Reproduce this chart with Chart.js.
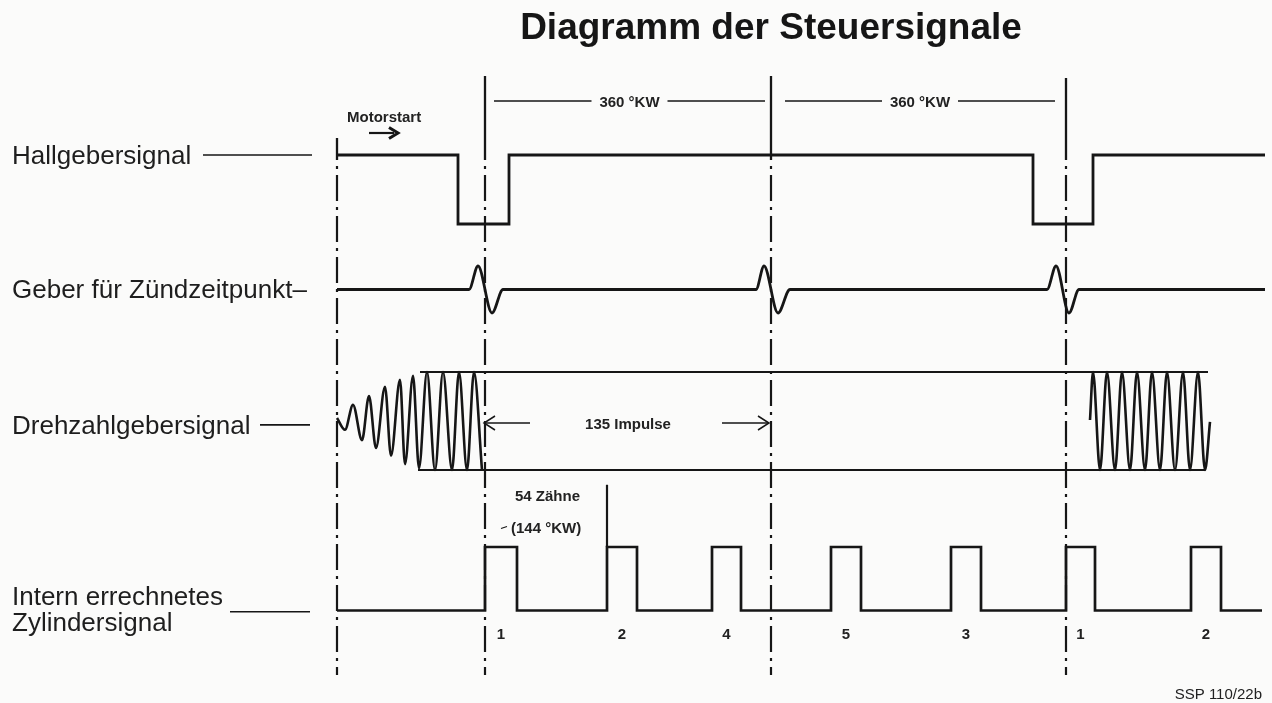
<!DOCTYPE html>
<html>
<head>
<meta charset="utf-8">
<script src="https://cdn.jsdelivr.net/npm/chart.js@4/dist/chart.umd.min.js"></script>
<style>
  html, body { margin: 0; padding: 0; background: #fbfbfa; }
  #wrap { width: 1272px; height: 703px; position: relative; }
  canvas { display: block; }
</style>
</head>
<body>
<div id="wrap"><canvas id="c" width="1272" height="703"></canvas></div>
<script>
// ---------------- DATA (diagram time units on x, signal levels on y) ----------------
const titleText = 'Diagramm der Steuersignale';
const rowLabels = ['Hallgebersignal', 'Geber für Zündzeitpunkt–', 'Drehzahlgebersignal', 'Intern errechnetes', 'Zylindersignal'];

// Hall sensor: edge times and the level that starts at each edge
const hallEdges  = [337, 458, 509, 1033, 1093, 1265];
const hallLevels = [1, 0, 1, 0, 1, 1];

// Ignition-point sensor: baseline with one bipolar pulse per reference mark
const ignT = [337, 469, 478, 492, 503, 756, 764, 778, 790, 1047, 1056, 1069, 1079, 1265];
const ignV = [0, 0, 1, -1, 0, 0, 1, -1, 0, 0, 1, -1, 0, 0];

// Engine-speed sensor: peaks and troughs
const speedLeftT  = [337, 345, 353, 362, 369, 376, 385, 391, 400, 405, 413, 419, 427, 435, 443, 452, 459, 467, 474, 482];
const speedLeftV  = [0.06, -0.18, 0.33, -0.39, 0.51, -0.55, 0.7, -0.71, 0.84, -0.88, 0.92, -0.96, 1, -1, 1, -1, 1, -1, 1, -1];
const speedRightT = [1090, 1093, 1100, 1107, 1115, 1122, 1130, 1137, 1145, 1152, 1160, 1167, 1175, 1183, 1190, 1198, 1205, 1210];
const speedRightV = [0.02, 1, -1, 1, -1, 1, -1, 1, -1, 1, -1, 1, -1, 1, -1, 1, -1, -0.02];
const envUpperT = [420, 1208];
const envLowerT = [418, 1205];

// Internally computed cylinder signal
const cylEdges  = [337, 485, 517, 607, 637, 712, 741, 831, 861, 951, 981, 1066, 1095, 1191, 1221, 1262];
const cylLevels = [0, 1, 0, 1, 0, 1, 0, 1, 0, 1, 0, 1, 0, 1, 0, 0];
const cylNumbers = ['1', '2', '4', '5', '3', '1', '2'];
const toothMarkT = 607;            // end of 54 teeth
const toothMarkLevels = [1, 1.98];

// Reference marks (dash-dot verticals)
const refMarks = [337, 485, 771, 1066];
const refTops  = [138, 76, 76, 78];

// Dimension "360 °KW" spans
const spans = [[494, 765], [785, 1055]];
const spanLabel = '360 °KW';
const impulseLabel = '135 Impulse';
const teethLabel = '54 Zähne';
const angleLabel = '(144 °KW)';
const motorLabel = 'Motorstart';
const sourceLabel = 'SSP 110/22b';

// ---------------- LAYOUT / STYLE ----------------
const W = 1272, H = 703;
const INK = '#161616';
// each signal row: pixel of level 0, pixels per level unit
const rowLayout = { yHall: [224, 69], yIgn: [289.5, 23.5], ySpeed: [421, 49], yCyl: [610.5, 63.5] };
function rowAxis(name) {
  const [zero, unit] = rowLayout[name];
  return { type: 'linear', display: false, min: (zero - H) / unit, max: zero / unit };
}
const zip = (t, v) => t.map((x, i) => ({ x: x, y: v[i] }));
function ds(points, axis, opts) {
  return Object.assign({ data: points, yAxisID: axis, xAxisID: 'x', borderColor: INK, borderWidth: 2.5,
    pointRadius: 0, pointHoverRadius: 0, fill: false, tension: 0, borderCapStyle: 'butt', borderJoinStyle: 'miter' }, opts || {});
}

const datasets = [];
// signals
datasets.push(ds(zip(hallEdges, hallLevels), 'yHall', { stepped: true, borderWidth: 2.8 }));
datasets.push(ds(zip(ignT, ignV), 'yIgn', { cubicInterpolationMode: 'monotone', borderWidth: 2.8 }));
datasets.push(ds(zip(speedLeftT, speedLeftV), 'ySpeed', { cubicInterpolationMode: 'monotone', borderWidth: 2.6 }));
datasets.push(ds(zip(speedRightT, speedRightV), 'ySpeed', { cubicInterpolationMode: 'monotone', borderWidth: 2.6 }));
datasets.push(ds(zip(envUpperT, [1, 1]), 'ySpeed', { borderWidth: 1.8 }));
datasets.push(ds(zip(envLowerT, [-1, -1]), 'ySpeed', { borderWidth: 1.8 }));
datasets.push(ds(zip(cylEdges, cylLevels), 'yCyl', { stepped: true, borderWidth: 2.7 }));
datasets.push(ds(zip([toothMarkT, toothMarkT], toothMarkLevels), 'yCyl', { borderWidth: 2.2 }));

// label guide lines
datasets.push(ds(zip([203, 312], [1, 1]), 'yHall', { borderWidth: 1.6 }));
datasets.push(ds(zip([260, 310], [-0.08, -0.08]), 'ySpeed', { borderWidth: 1.6 }));
datasets.push(ds(zip([230, 310], [-0.02, -0.02]), 'yCyl', { borderWidth: 1.6 }));

// reference dash-dot lines (page axis)
refMarks.forEach((x, i) => {
  datasets.push(ds(zip([x, x], [refTops[i], 160]), 'yPage', { borderWidth: 2.3 }));
  datasets.push(ds(zip([x, x], [160, 675]), 'yPage', { borderWidth: 2.2, borderDash: [26, 6, 3, 6], borderDashOffset: 26 }));
});

// 360 °KW dimension lines (gap for the label)
spans.forEach(s => {
  const mid = (s[0] + s[1]) / 2;
  datasets.push(ds(zip([s[0], mid - 38], [101, 101]), 'yPage', { borderWidth: 1.5 }));
  datasets.push(ds(zip([mid + 38, s[1]], [101, 101]), 'yPage', { borderWidth: 1.5 }));
});

// Motorstart arrow
datasets.push(ds(zip([369, 394], [133, 133]), 'yPage', { borderWidth: 2.2 }));
datasets.push(ds(zip([389, 398, 389], [127.5, 133, 138.5]), 'yPage', { borderWidth: 3 }));

// 135 Impulse arrows
datasets.push(ds(zip([484, 530], [423, 423]), 'yPage', { borderWidth: 1.5 }));
datasets.push(ds(zip([495, 484, 495], [416, 423, 430]), 'yPage', { borderWidth: 1.5 }));
datasets.push(ds(zip([722, 769], [423, 423]), 'yPage', { borderWidth: 1.5 }));
datasets.push(ds(zip([758, 769, 758], [416, 423, 430]), 'yPage', { borderWidth: 1.5 }));
// small tick before (144 °KW)
datasets.push(ds(zip([501, 507], [528.5, 526.5]), 'yPage', { borderWidth: 1.2 }));

// ---------------- TEXT PLUGIN ----------------
const FONT = '"Liberation Sans", Arial, Helvetica, sans-serif';
const textPlugin = {
  id: 'texts',
  afterDatasetsDraw(chart) {
    const ctx = chart.ctx;
    const xs = chart.scales.x;
    ctx.save();
    ctx.fillStyle = INK;
    ctx.textBaseline = 'alphabetic';
    // title
    ctx.font = 'bold 37px ' + FONT;
    ctx.textAlign = 'center';
    ctx.fillText(titleText, 771, 39);
    // row labels
    ctx.font = '26px ' + FONT;
    ctx.fillStyle = '#1e1e1e';
    ctx.textAlign = 'left';
    ctx.fillText(rowLabels[0], 12, 164);
    ctx.fillText(rowLabels[1], 12, 298);
    ctx.fillText(rowLabels[2], 12, 434);
    ctx.fillText(rowLabels[3], 12, 605);
    ctx.fillText(rowLabels[4], 12, 631);
    // small annotations
    ctx.fillStyle = '#222';
    ctx.font = 'bold 15px ' + FONT;
    ctx.fillText(motorLabel, 347, 122);
    ctx.textAlign = 'center';
    spans.forEach(s => ctx.fillText(spanLabel, xs.getPixelForValue((s[0] + s[1]) / 2), 106.5));
    ctx.fillText(impulseLabel, 628, 429);
    ctx.textAlign = 'left';
    ctx.fillText(teethLabel, 515, 501);
    ctx.fillText(angleLabel, 511, 533);
    // cylinder numbers centred on each pulse
    ctx.textAlign = 'center';
    let k = 0;
    for (let i = 0; i < cylEdges.length - 1; i++) {
      if (cylLevels[i] === 1 && k < cylNumbers.length) {
        const cx = xs.getPixelForValue((cylEdges[i] + cylEdges[i + 1]) / 2);
        ctx.fillText(cylNumbers[k++], cx, 639);
      }
    }
    // source
    ctx.font = '15px ' + FONT;
    ctx.textAlign = 'right';
    ctx.fillText(sourceLabel, 1262, 699);
    ctx.restore();
  }
};

const scales = {
  x: { type: 'linear', display: false, min: 0, max: W },
  yPage: { type: 'linear', display: false, min: 0, max: H, reverse: true },
  yHall: rowAxis('yHall'),
  yIgn: rowAxis('yIgn'),
  ySpeed: rowAxis('ySpeed'),
  yCyl: rowAxis('yCyl')
};

new Chart(document.getElementById('c'), {
  type: 'line',
  data: { datasets: datasets },
  options: {
    responsive: false,
    animation: false,
    events: [],
    layout: { padding: 0 },
    scales: scales,
    plugins: { legend: { display: false }, title: { display: false }, tooltip: { enabled: false } }
  },
  plugins: [textPlugin]
});
</script>
</body>
</html>
